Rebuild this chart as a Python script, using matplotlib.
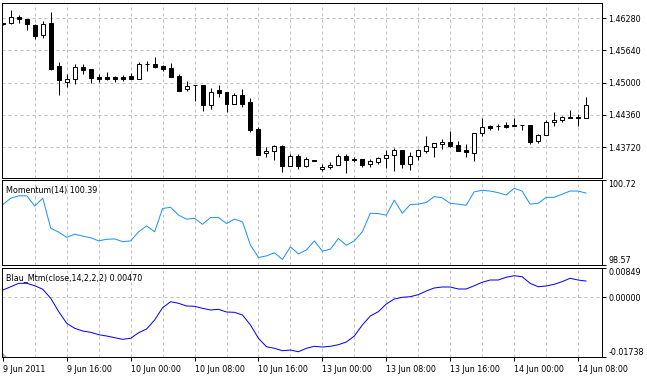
import numpy as np
import matplotlib.pyplot as plt
from matplotlib.patches import Rectangle, Polygon

plt.rcParams['font.family'] = ['DejaVu Sans']
plt.rcParams['font.stretch'] = 'condensed'
plt.rcParams['font.size'] = 6.4

# hourly bars, 9 Jun 2011 08:00 .. 14 Jun 2011 09:00
opens = [1.46177, 1.46181, 1.46312, 1.46266, 1.46147, 1.45942, 1.46181, 1.45326, 1.45020, 1.45068,
         1.45312, 1.45272, 1.45113, 1.45113, 1.45113, 1.45113, 1.45133, 1.45079, 1.45372, 1.45372,
         1.45332, 1.45292, 1.45133, 1.44869, 1.44954, 1.44954, 1.44551, 1.44861, 1.44815, 1.44571,
         1.44755, 1.44616, 1.44080, 1.43596, 1.43636, 1.43748, 1.43338, 1.43549, 1.43344, 1.43469,
         1.43284, 1.43324, 1.43364, 1.43543, 1.43489, 1.43483, 1.43378, 1.43429, 1.43497, 1.43557,
         1.43662, 1.43384, 1.43543, 1.43648, 1.43728, 1.43775, 1.43827, 1.43755, 1.43662, 1.43608,
         1.43994, 1.44145, 1.44139, 1.44165, 1.44153, 1.44159, 1.44159, 1.43835, 1.43954, 1.44213,
         1.44258, 1.44312, 1.44318, 1.44292]
highs = [1.46187, 1.46445, 1.46346, 1.46266, 1.46161, 1.46227, 1.46405, 1.45411, 1.45167, 1.45372,
         1.45372, 1.45272, 1.45179, 1.45219, 1.45133, 1.45159, 1.45199, 1.45411, 1.45431, 1.45511,
         1.45346, 1.45398, 1.45173, 1.45028, 1.44954, 1.44954, 1.44889, 1.44948, 1.44815, 1.44789,
         1.44875, 1.44690, 1.44125, 1.43722, 1.43767, 1.43755, 1.43577, 1.43577, 1.43529, 1.43469,
         1.43378, 1.43418, 1.43583, 1.43583, 1.43529, 1.43483, 1.43483, 1.43529, 1.43662, 1.43708,
         1.43662, 1.43616, 1.43688, 1.43934, 1.43807, 1.43875, 1.44046, 1.43835, 1.43781, 1.43994,
         1.44298, 1.44165, 1.44179, 1.44213, 1.44298, 1.44159, 1.44159, 1.43974, 1.44258, 1.44417,
         1.44338, 1.44457, 1.44372, 1.44716]
lows = [1.46147, 1.46167, 1.46193, 1.46048, 1.45863, 1.45895, 1.45252, 1.44761, 1.44914, 1.44980,
        1.45179, 1.45000, 1.45008, 1.45054, 1.45014, 1.45034, 1.45068, 1.45074, 1.45239, 1.45292,
        1.45233, 1.45119, 1.44841, 1.44841, 1.44642, 1.44443, 1.44483, 1.44722, 1.44423, 1.44571,
        1.44523, 1.44026, 1.43569, 1.43529, 1.43469, 1.43231, 1.43338, 1.43278, 1.43330, 1.43449,
        1.43245, 1.43290, 1.43364, 1.43211, 1.43418, 1.43318, 1.43324, 1.43378, 1.43310, 1.43251,
        1.43310, 1.43258, 1.43463, 1.43596, 1.43517, 1.43676, 1.43728, 1.43648, 1.43529, 1.43449,
        1.43946, 1.44054, 1.44060, 1.44093, 1.44139, 1.44060, 1.43787, 1.43807, 1.43954, 1.44145,
        1.44225, 1.44292, 1.44145, 1.44292]
closes = [1.46157, 1.46312, 1.46260, 1.46161, 1.45934, 1.46167, 1.45272, 1.45048, 1.45074, 1.45306,
          1.45258, 1.45099, 1.45074, 1.45079, 1.45079, 1.45074, 1.45079, 1.45372, 1.45366, 1.45318,
          1.45278, 1.45119, 1.44841, 1.44934, 1.44948, 1.44563, 1.44815, 1.44801, 1.44571, 1.44749,
          1.44582, 1.44066, 1.43569, 1.43642, 1.43748, 1.43338, 1.43549, 1.43338, 1.43483, 1.43449,
          1.43330, 1.43370, 1.43543, 1.43457, 1.43457, 1.43370, 1.43443, 1.43503, 1.43569, 1.43662,
          1.43384, 1.43543, 1.43662, 1.43748, 1.43795, 1.43827, 1.43742, 1.43648, 1.43616, 1.43994,
          1.44119, 1.44105, 1.44133, 1.44119, 1.44147, 1.44153, 1.43827, 1.43960, 1.44213, 1.44264,
          1.44318, 1.44306, 1.44292, 1.44551]

momentum = [100.10, 100.26, 100.32, 100.32, 100.06, 100.26, 99.50, 99.40, 99.27, 99.35,
            99.30, 99.26, 99.18, 99.22, 99.23, 99.16, 99.18, 99.41, 99.56, 99.41,
            100.00, 100.03, 99.83, 99.73, 99.75, 99.60, 99.77, 99.77, 99.62, 99.73,
            99.66, 99.07, 98.76, 98.80, 98.88, 98.71, 99.03, 98.85, 98.95, 99.18,
            98.92, 98.97, 99.24, 99.07, 99.18, 99.41, 99.88, 99.87, 99.83, 100.21,
            99.88, 100.10, 100.11, 100.15, 100.30, 100.27, 100.13, 100.11, 100.08, 100.42,
            100.46, 100.44, 100.40, 100.34, 100.51, 100.44, 100.11, 100.13, 100.28, 100.28,
            100.36, 100.44, 100.44, 100.39]

blau = [0.00209, 0.00305, 0.00404, 0.00404, 0.00334, 0.00230, -0.00032, -0.00421, -0.00759, -0.00904,
        -0.00982, -0.01020, -0.01090, -0.01128, -0.01177, -0.01224, -0.01195, -0.01032, -0.00924, -0.00663,
        -0.00305, -0.00131, -0.00177, -0.00256, -0.00264, -0.00323, -0.00372, -0.00352, -0.00430, -0.00439,
        -0.00517, -0.00808, -0.01195, -0.01439, -0.01485, -0.01555, -0.01535, -0.01584, -0.01485, -0.01427,
        -0.01448, -0.01427, -0.01381, -0.01302, -0.01128, -0.00808, -0.00546, -0.00421, -0.00198, -0.00052,
        -0.00003, 0.00015, 0.00073, 0.00180, 0.00268, 0.00297, 0.00297, 0.00239, 0.00239, 0.00334,
        0.00433, 0.00500, 0.00500, 0.00579, 0.00625, 0.00596, 0.00404, 0.00305, 0.00326, 0.00375,
        0.00451, 0.00550, 0.00500, 0.00470]

price_ticks = [1.46280, 1.45640, 1.45000, 1.44360, 1.43720]
mom_ticks = [100.72, 98.57]
blau_ticks = [0.00849, 0.00000, -0.01738]
date_pos = [0, 8, 16, 24, 32, 40, 48, 56, 64, 72]
date_labels = ['9 Jun 2011', '9 Jun 16:00', '10 Jun 00:00', '10 Jun 08:00', '10 Jun 16:00',
               '13 Jun 00:00', '13 Jun 08:00', '13 Jun 16:00', '14 Jun 00:00', '14 Jun 08:00']

W, H = 647, 377
fig = plt.figure(figsize=(W / 100, H / 100), dpi=100)
fig.patch.set_facecolor('white')


def panel(top, bottom):
    return fig.add_axes([2 / W, (H - bottom) / H, 600 / W, (bottom - top) / H])


ax1 = panel(3.3, 178.3)
ax2 = panel(180, 265)
ax3 = panel(268, 357)

px = 0.72
grid_kw = dict(color='#c0c0c0', lw=px, ls=(0, (3, 3)), zorder=0)

for ax in (ax1, ax2, ax3):
    ax.set_xlim(-0.1, 75)
    for s in ax.spines.values():
        s.set_linewidth(px)
        s.set_color('black')
    for k in range(4, 75, 4):
        ax.axvline(k, **grid_kw)
    ax.yaxis.tick_right()
    ax.tick_params(axis='y', direction='out', length=3, width=px, pad=1.5, labelsize=6.4)
    ax.set_xticks([])

# candles
x = np.arange(len(opens))
for i in x:
    o, h, l, c = opens[i], highs[i], lows[i], closes[i]
    ax1.vlines(i, l, h, color='black', lw=px, zorder=2)
    ax1.add_patch(Rectangle((i - 0.25, min(o, c)), 0.5, abs(c - o),
                            facecolor='white' if c > o else 'black',
                            edgecolor='black', lw=px, zorder=3))
ax1.set_ylim(1.43099, 1.46578)
ax1.set_yticks(price_ticks)
ax1.set_yticklabels(['%.5f' % v for v in price_ticks])
for v in price_ticks:
    ax1.axhline(v, **grid_kw)

# momentum
ax2.plot(x, momentum, color='#1e90ff', lw=px)
ax2.set_ylim(98.57, 100.72)
ax2.set_yticks(mom_ticks)
ax2.set_yticklabels(['%.2f' % v for v in mom_ticks])
lb = ax2.get_yticklabels()
lb[0].set_va('top')
lb[1].set_va('bottom')
ax2.annotate('Momentum(14) 100.39', xy=(0, 1), xycoords='axes fraction',
             xytext=(4, -6), textcoords='offset pixels', va='top', ha='left', fontsize=6.4)

# Blau momentum
ax3.plot(x, blau, color='#0000ff', lw=px)
ax3.set_ylim(-0.01738, 0.00849)
ax3.axhline(0, **grid_kw)
ax3.set_yticks(blau_ticks)
ax3.set_yticklabels(['%.5f' % v for v in blau_ticks])
lb = ax3.get_yticklabels()
lb[0].set_va('top')
lb[2].set_va('bottom')
ax3.annotate('Blau_Mtm(close,14,2,2,2) 0.00470', xy=(0, 1), xycoords='axes fraction',
             xytext=(4, -5), textcoords='offset pixels', va='top', ha='left', fontsize=6.4)
ax3.add_patch(Polygon([(0, 0), (5 / 600, 0), (0, 5 / 89)], closed=True,
                      transform=ax3.transAxes, facecolor='#b0b0b0', edgecolor='none'))

ax3.set_xticks(date_pos)
ax3.set_xticklabels(date_labels)
ax3.tick_params(axis='x', direction='out', length=3, width=px, pad=3, labelsize=6.4)
for t in ax3.get_xticklabels():
    t.set_ha('left')

fig.savefig('out.png', dpi=100)
